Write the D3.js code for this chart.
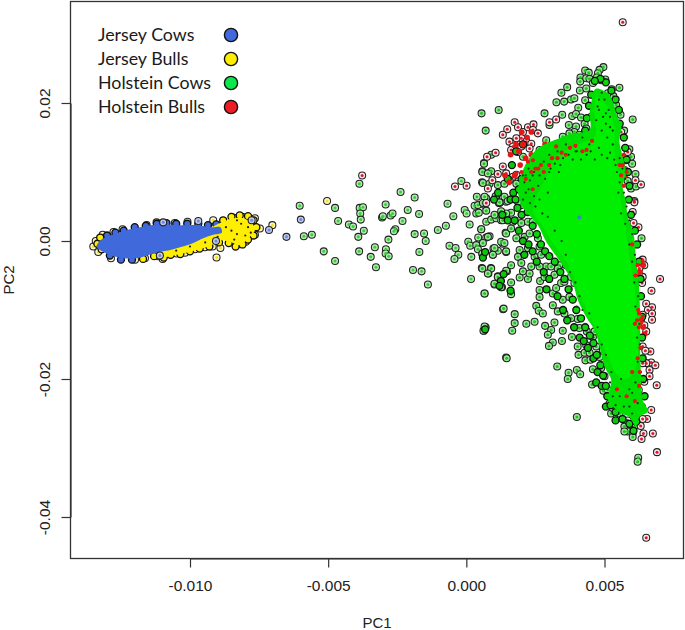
<!DOCTYPE html>
<html><head><meta charset="utf-8">
<script src="https://cdn.jsdelivr.net/npm/d3@7"></script>
<style>html,body{margin:0;padding:0;background:#fff}svg{display:block}</style>
</head><body><svg id="c" width="685" height="630"></svg>
<script>
// All pairs: [PC1 x 1e5, PC2 x 1e4]
const legendLabels = ["Jersey Cows","Jersey Bulls","Holstein Cows","Holstein Bulls"];
const xTicks = [-0.010,-0.005,0,0.005];
const yTicks = [-0.04,-0.02,0,0.02];

const jerseyCows = [[-1097,27],[-970,29],[-651,6],[-714,16],[-777,30],[-906,0],[-1109,-21],[-599,31]];
const jerseyBulls = [[-1350,-8],[-1341,0],[-1332,-16],[-1316,9],[-1323,4],[-1286,-25],[-1277,13],[-1244,17],[-1199,-27],[-1163,-25],[-1157,23],[-1121,27],[-1055,26],[-1009,28],[-916,30],[-844,34],[-811,35],[-765,33],[-747,18],[-765,9],[-798,-1],[-832,-6],[-890,-10],[-918,-8],[-946,-9],[-982,-12],[-1018,-17],[-1049,-18],[-1082,-18],[-1099,-26],[-1115,-22],[-702,23],[-904,-24],[-504,58]];
const jerseyCowsDense = [[-1338,-8],[-1314,4],[-1265,11],[-1205,18],[-1121,24],[-1036,23],[-976,23],[-922,20],[-890,20],[-885,12],[-916,9],[-952,4],[-988,-3],[-1061,-12],[-1133,-18],[-1193,-25],[-1241,-25],[-1302,-18]];
const jerseyBullsDense = [[-916,21],[-880,28],[-844,33],[-808,33],[-777,26],[-765,16],[-789,4],[-820,-6],[-856,-1],[-892,1],[-922,-6],[-976,-13],[-1036,-19],[-1091,-23],[-1115,-18],[-1061,-8],[-988,1],[-940,11]];
const jerseyBullsEdge = [[-880,30],[-850,35],[-820,37],[-790,36],[-770,30],[-760,20],[-770,8],[-790,2],[-810,-5],[-835,-8],[-860,-3],[-895,-2],[-930,-8],[-965,-11],[-1000,-15],[-1035,-19],[-1070,-20],[-1095,-24],[-1130,-22],[-1170,-26],[-1320,-12],[-1335,-4],[-1325,5]];
const jerseyCowsEdge = [[-1210,-27],[-1250,-27],[-1290,-21],[-1300,8],[-1270,12],[-1240,15],[-1200,20],[-1160,22],[-1120,25],[-1085,26],[-1050,25],[-1010,25],[-970,25],[-935,23],[-905,24]];
const jerseyDark = [[-850,15],[-830,10],[-815,25],[-790,20],[-870,20],[-830,30],[-800,8],[-780,12],[-900,6],[-945,-2],[-1000,-8],[-1050,-14],[-840,2]];

const holsteinCowsFar = [[-603,51],[-475,48],[-464,29],[-425,24],[-410,21],[-588,7],[-559,9],[-516,-15],[-475,-29],[-387,83],[-238,71],[-187,63],[-292,53],[-212,45],[-171,39],[-231,29],[-386,48],[-374,49],[-384,40],[-382,31],[-371,15],[-391,6],[-305,34],[-302,36],[-274,37],[-267,40],[-257,17],[-262,14],[-282,2],[-388,-15],[-331,-9],[-346,-23],[-327,-38],[-291,-12],[-292,-18],[-281,-22],[-193,-42],[-162,-44],[-139,-63],[-187,10],[-153,11],[-147,0],[-170,-16],[-68,54],[-47,36],[-74,22],[-103,16],[-18,87],[12,24],[-6,45],[1,40],[-61,-7],[-39,-10],[-29,-20],[-43,-26],[18,-23],[56,-39],[89,-39],[80,-47],[17,-55],[114,-51],[102,-63],[129,-67],[66,-76],[133,-99],[70,-125],[64,-130],[144,-169]];
const holsteinCowsMid = [[30,51],[42,52],[66,52],[36,40],[45,41],[57,85],[64,113],[58,101],[38,64],[72,62],[108,64],[118,55],[144,57],[72,28],[90,31],[108,33],[126,30],[144,38],[54,17],[43,5],[72,5],[84,7],[142,12],[7,-1],[14,-7],[36,-6],[42,-12],[58,-19],[98,-11],[96,-20],[114,-14],[132,-4],[144,-16],[147,-44]];
const holsteinCowsUpper = [[55,185],[117,190],[70,160],[283,185],[365,223],[344,215],[326,201],[354,202],[379,205],[391,207],[411,218],[430,204],[434,221],[405,193],[602,176],[554,222],[526,220],[532,210],[512,214],[496,252],[482,248],[476,243],[503,234],[488,233],[472,237],[430,247],[443,244],[413,237],[412,231],[434,236],[446,235],[458,229],[347,183],[383,181],[397,184],[415,179],[428,170],[434,163],[452,180],[301,168],[371,168],[397,166],[391,158],[542,197],[558,183],[571,160],[590,133],[596,122],[600,112],[612,97],[584,87],[596,76],[614,79],[90,125],[64,112],[58,100],[90,101],[78,98],[60,84],[84,83],[114,81],[138,83],[106,65],[138,64],[66,64],[120,55],[150,58],[199,52],[187,57],[205,122],[181,83],[205,79],[229,108],[265,132],[289,146],[349,151],[373,156],[409,154]];
const holsteinCowsLower = [[60,55],[120,56],[162,41],[144,40],[126,43],[102,38],[72,44],[132,30],[168,28],[199,26],[223,28],[241,28],[54,17],[78,6],[60,-3],[144,11],[181,4],[211,6],[162,18],[126,-1],[102,-10],[138,-3],[193,-13],[187,-23],[223,-10],[96,-20],[144,-15],[58,-18],[247,-23],[265,-8],[259,4],[229,11],[271,-20],[289,-37],[265,-37],[307,-37],[337,-35],[361,-35],[199,-32],[162,-35],[90,-40],[58,-40],[78,-47],[144,-43],[193,-53],[223,-55],[205,-44],[229,-47],[235,-37],[114,-52],[102,-62],[126,-67],[162,-60],[267,-58],[283,-52],[66,-76],[162,-77],[265,-71],[265,-81],[313,-76],[325,-68],[343,-61],[319,-49],[331,-40],[355,-59],[379,-52],[391,-61],[409,-68],[349,-85],[373,-81],[313,-93],[331,-102],[355,-105],[253,-94],[262,-101],[277,-105],[135,-98],[175,-106],[175,-119],[217,-120],[247,-117],[166,-130],[285,-123],[307,-129],[295,-136],[319,-118],[349,-130],[382,-139],[346,-145],[313,-147],[299,-152],[403,-113],[379,-112],[409,-126],[403,-153],[434,-151],[406,-165],[428,-162],[446,-162],[431,-173],[449,-172],[482,-168],[470,-153],[458,-139],[146,-170],[329,-182],[400,-187],[412,-193],[370,-191],[367,-200],[455,-208],[496,-217],[512,-216],[458,-186],[488,-184],[500,-196],[522,-168],[524,-187],[494,-158],[436,-131],[464,-131],[66,-124],[62,-130],[634,4],[400,-255],[518,-236],[524,-250],[554,-250],[572,-269],[584,-276],[572,-276],[602,-279],[602,-284],[614,-267],[614,-255],[622,-314],[620,-320],[530,-242],[548,-235]];
const holsteinBulls = [[-377,95],[-41,79],[1,80],[566,317],[175,172],[148,162],[132,154],[156,144],[187,165],[205,158],[223,165],[243,169],[241,161],[259,156],[199,149],[181,149],[217,144],[235,141],[169,137],[199,137],[229,134],[162,132],[187,129],[106,128],[75,122],[301,172],[325,176],[132,108],[144,98],[169,93],[114,97],[94,88],[78,76],[72,55],[156,88],[181,96],[632,82],[612,88],[608,58],[578,117],[554,112],[572,103],[584,129],[560,158],[623,20],[605,26],[608,56],[602,42],[701,-55],[670,-72],[651,-91],[672,-96],[657,-100],[672,-105],[672,-114],[638,-27],[626,-30],[644,-35],[626,-40],[638,-52],[636,-61],[624,-47],[638,-107],[632,-114],[644,-122],[651,-131],[638,-153],[666,-160],[648,-159],[669,-176],[684,-180],[663,-187],[663,-196],[689,-209],[651,-177],[638,-177],[644,-204],[624,-216],[669,-245],[654,-258],[638,-258],[584,-260],[631,-268],[641,-279],[675,-279],[634,-287],[690,-306],[651,-430]];
const holsteinBullsDense = [[285,140],[310,135],[340,142],[270,125],[250,120],[235,125],[215,120],[195,110],[175,95],[155,85],[140,95],[190,130],[160,125],[220,150],[205,140],[380,140],[360,132],[560,120],[570,105],[575,95],[560,100],[632,-28],[640,-35],[628,-45],[636,-108],[630,-118],[640,-125],[645,-135],[200,158],[235,158],[180,140]];
const holsteinCowsEdge = [[452,212],[444,196],[436,178],[430,160],[395,150],[360,145],[325,140],[290,135],[265,125],[240,112],[222,100],[200,90],[190,75],[178,60],[185,48],[200,38],[222,42],[240,22],[255,10],[270,-5],[285,-15],[300,-22],[320,-30],[340,-45],[355,-55],[370,-70],[385,-85],[398,-100],[415,-112],[430,-125],[447,-137],[460,-148],[472,-165],[485,-180],[495,-195],[505,-210],[510,-225],[522,-238],[540,-248],[565,-258],[590,-265],[605,-275],[615,-262],[635,-240],[645,-225],[640,-200],[638,-170],[636,-140],[636,-110],[632,-80],[630,-55],[625,-30],[618,-5],[610,15],[596,38],[588,60],[590,80],[585,100],[580,118],[575,135],[570,150],[555,170],[552,190],[540,205],[525,218],[505,230],[485,235],[465,232]];
const holsteinCowsClumps = [[180,130],[205,140],[165,110],[150,90],[170,70],[160,60],[220,60],[175,30],[190,15],[205,0],[225,-5],[210,-20],[240,-15],[255,-30],[280,-45],[300,-55],[290,-70],[330,-80],[350,-100],[365,-115],[390,-125],[410,-140],[425,-145],[440,-155],[460,-170],[475,-190],[470,-205],[490,-210],[505,-240],[540,-260],[60,-24],[68,-16],[135,-48],[125,-58],[160,-72],[68,-128],[120,-65],[150,30],[130,38],[100,60],[115,70]];

const holsteinDenseOuter = [[470,221],[512,214],[530,202],[542,185],[560,166],[554,144],[566,122],[578,98],[566,79],[578,57],[584,35],[605,11],[614,-27],[624,-61],[629,-110],[629,-158],[632,-192],[638,-230],[657,-247],[626,-255],[614,-269],[590,-255],[560,-250],[530,-240],[512,-230],[518,-216],[524,-201],[500,-182],[482,-153],[464,-129],[434,-110],[403,-85],[385,-61],[343,-32],[289,-1],[259,23],[211,45],[193,59],[187,74],[205,103],[241,127],[277,139],[337,149],[385,156],[446,161],[446,185],[452,199],[458,214]];
const holsteinDenseInner = [[470,209],[512,195],[536,166],[536,132],[554,93],[560,57],[578,11],[596,-37],[614,-85],[620,-134],[614,-182],[578,-201],[542,-192],[512,-168],[458,-119],[409,-76],[373,-37],[313,-3],[277,21],[241,45],[289,93],[325,122],[409,141],[464,151],[464,190]];
const coreDark = [[300,125],[330,130],[360,140],[395,130],[420,150],[445,140],[480,135],[510,150],[530,140],[555,120],[565,105],[575,90],[570,70],[580,50],[590,30],[600,10],[610,-20],[618,-50],[622,-80],[626,-120],[628,-150],[632,-190],[225,105],[240,95],[260,80],[215,70],[205,60],[250,50],[300,100],[340,110],[280,115],[500,205],[480,190],[520,180],[505,170],[470,175],[530,160],[490,160],[510,120],[540,110],[310,-20],[350,-50],[380,-70],[400,-95],[430,-120],[460,-140],[490,-175],[520,-205],[555,-225],[590,-240],[600,-220],[560,-200],[620,-235],[580,-260],[215,95],[230,88],[245,100],[265,95],[285,90],[305,105],[320,112],[335,100],[350,120],[370,125],[385,118],[400,130],[415,118],[435,125],[450,130],[465,118],[490,125],[520,128],[535,118],[545,100],[555,85],[550,70],[560,40],[575,25],[590,-5],[600,-30],[608,-60],[612,-95],[618,-140],[620,-175],[612,-205],[590,-215],[530,-225],[540,-238],[570,-240],[600,-250],[210,85],[205,95],[225,75],[245,65],[230,55],[265,60],[275,40],[295,70],[295,35],[320,15],[345,0],[360,-20],[375,-45],[395,-60],[410,-80],[420,-100],[445,-105],[475,-125],[490,-150],[505,-165],[525,-190],[515,190],[495,180],[520,165],[480,205],[505,185],[475,195],[490,215]];
const coreRed = [[325,137],[223,115],[241,117],[181,98],[566,110],[638,-29],[632,-114],[636,-35],[638,-110],[330,120],[360,125],[300,110],[260,105],[420,130],[570,80],[580,100],[600,-5],[612,-50],[622,-100],[610,-120],[620,-170],[600,-190],[625,-210],[580,-225],[610,-232],[545,-215],[240,75],[345,128],[375,135],[395,138],[435,132],[455,145],[270,110],[250,105],[280,100],[310,120],[215,90],[235,100],[200,100],[560,95],[555,110],[570,125],[620,-35],[625,-105],[618,-115],[624,-125],[630,-155],[628,-190]];
const coreBlue = [[409,34]];

const svg = d3.select("#c");
const defs = svg.append("defs");
defs.append("filter").attr("id","soft").append("feGaussianBlur").attr("stdDeviation",0.35);
const x = d3.scaleLinear().domain([-0.01,0.005]).range([190,604.5]);
const y = d3.scaleLinear().domain([-0.04,0.02]).range([517,103]);
const X = d => x(d[0]*1e-5), Y = d => y(d[1]*1e-4);
const dash = s => s.replace("\u2212","-");
const axisColor = "#333";
const AF = "'Liberation Sans',Arial,sans-serif";

svg.append("rect").attr("x",70.5).attr("y",1.5).attr("width",613).attr("height",557)
  .attr("fill","#fff").attr("stroke",axisColor).attr("stroke-width",1.3);

const gx = svg.append("g").attr("transform","translate(0,558.5)")
  .call(d3.axisBottom(x).tickValues(xTicks).tickSize(9).tickSizeOuter(0).tickPadding(12).tickFormat(d=>dash(d3.format(".3f")(d))));
const gy = svg.append("g").attr("transform","translate(70.5,0)")
  .call(d3.axisLeft(y).tickValues(yTicks).tickSize(9).tickSizeOuter(0).tickFormat(d=>dash(d3.format(".2f")(d))));
gy.selectAll("text").attr("text-anchor","middle").attr("x",0).attr("y",-21).attr("dy",0).attr("transform","rotate(-90)");
[gx,gy].forEach(g=>{g.selectAll("text").style("font-family",AF).style("font-size","15.5px").attr("fill","#222");
  g.selectAll("line,path").attr("stroke",axisColor).attr("stroke-width",1.2);});
svg.append("text").attr("x",377).attr("y",627.5).attr("text-anchor","middle").text("PC1")
  .style("font-family",AF).style("font-size","15px").attr("fill","#222");
svg.append("text").attr("transform","translate(14,280) rotate(-90)").attr("text-anchor","middle").text("PC2")
  .style("font-family",AF).style("font-size","15px").attr("fill","#222");

const plot = svg.append("g").attr("filter","url(#soft)");
const poly = d3.line().x(X).y(Y).curve(d3.curveCatmullRomClosed.alpha(0.5));
function rings(data,pale,core){
  const g = plot.append("g");
  g.selectAll("circle").data(data).join("circle").attr("cx",X).attr("cy",Y).attr("r",3.5)
    .attr("fill",pale).attr("stroke","#222").attr("stroke-width",1.05);
  g.append("g").selectAll("circle").data(data).join("circle").attr("cx",X).attr("cy",Y).attr("r",1.5).attr("fill",core);
}
function solid(data,fill){
  plot.append("g").selectAll("circle").data(data).join("circle").attr("cx",X).attr("cy",Y).attr("r",3.5)
    .attr("fill",fill).attr("stroke","#0c0c0c").attr("stroke-width",1.3);
}
function dots(data,color,r){
  plot.append("g").selectAll("circle").data(data).join("circle").attr("cx",X).attr("cy",Y).attr("r",r).attr("fill",color);
}
function area(data,fill){
  plot.append("path").datum(data).attr("d",poly).attr("fill",fill);
}
const GREEN="#00ee00",RED="#e81414",YEL="#ffee00",BLUE="#4169dc";
// Jersey
rings(jerseyBulls,"#fdf8c8","#f4e21c");
solid(jerseyBullsEdge,YEL);
solid(jerseyCowsEdge,BLUE);
area(jerseyBullsDense,YEL);
area(jerseyCowsDense,BLUE);
dots(jerseyDark,"#222",1.1);
rings(jerseyCows,"#c2cbee","#6c86d8");
// Holstein
rings(holsteinCowsFar,"#b2eab2","#38d038");
rings(holsteinCowsMid,"#a8e6a8","#28c828");
rings(holsteinCowsUpper,"#9ee49e","#1cc81c");
rings(holsteinCowsLower,"#9ee49e","#1cc81c");
rings(holsteinBulls,"#f8e8e8","#e0142a");
solid(holsteinCowsClumps,"#10c410");
dots(holsteinBullsDense,RED,2.8);
solid(holsteinCowsEdge,"#0cd40c");
area(holsteinDenseOuter,"#04e004");
area(holsteinDenseInner,GREEN);
dots(coreDark,"#0a3a0a",1.1);
dots(coreRed,RED,2.1);
dots(coreBlue,"#2f8fb0",2);

// Legend
const legendY = d3.scalePoint().domain(legendLabels).range([35,107]);
const legendColors = d3.scaleOrdinal().domain(legendLabels).range([BLUE,YEL,"#0be84a","#ee1c25"]);
const lg = svg.append("g");
lg.selectAll("text").data(legendLabels).join("text").attr("x",98).attr("y",d=>legendY(d)+5.5).text(d=>d)
  .style("font-family","Lato,'Noto Sans',sans-serif").style("font-size","17.8px").attr("fill","#1a1a1a");
lg.selectAll("circle").data(legendLabels).join("circle").attr("cx",231).attr("cy",d=>legendY(d)).attr("r",6.6)
  .attr("fill",d=>legendColors(d)).attr("stroke","#111").attr("stroke-width",1.4);
</script></body></html>
